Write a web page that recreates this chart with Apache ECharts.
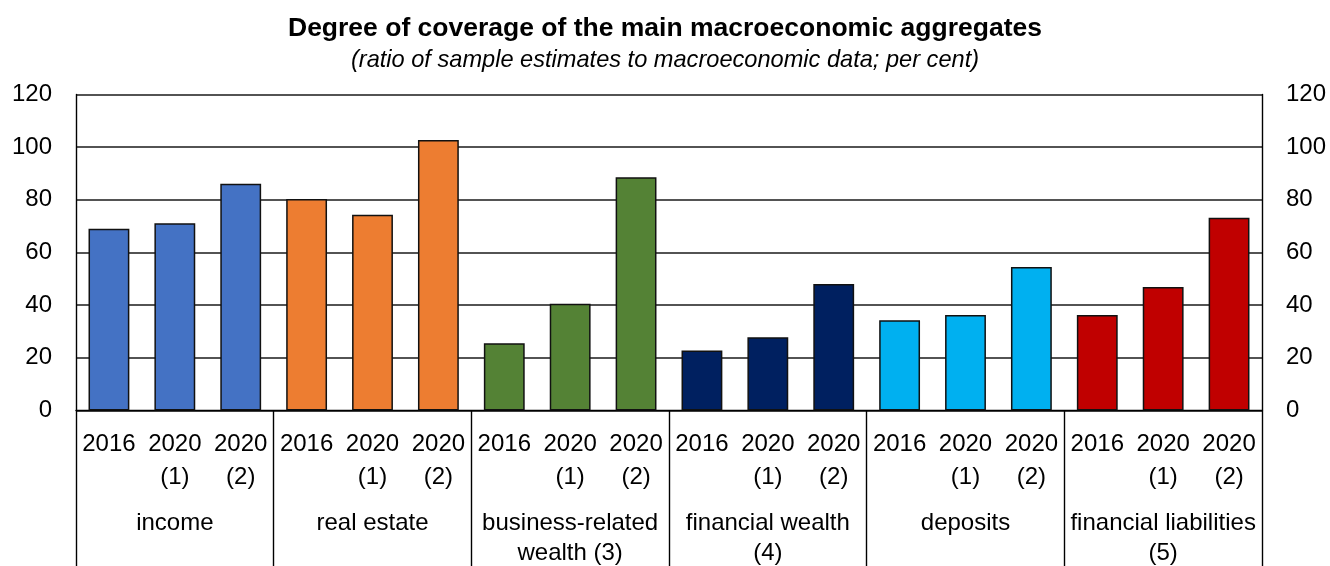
<!DOCTYPE html>
<html>
<head>
<meta charset="utf-8">
<script src="https://cdn.jsdelivr.net/npm/echarts@6/dist/echarts.min.js"></script>
<style>
html,body{margin:0;padding:0;background:#fff;}
#chart{width:1330px;height:566px;}
</style>
</head>
<body>
<div id="chart"></div>
<script>
// ---- data ----
const groups = ['income', 'real estate', 'business-related\nwealth (3)', 'financial wealth\n(4)', 'deposits', 'financial liabilities\n(5)'];
const periods = ['2016', '2020\n(1)', '2020\n(2)'];
const income = [69.0, 71.1, 86.1];
const realEstate = [80.3, 74.3, 102.7];
const businessWealth = [25.5, 40.5, 88.6];
const financialWealth = [22.8, 27.8, 48.0];
const deposits = [34.3, 36.3, 54.5];
const financialLiabilities = [36.3, 46.9, 73.2];
const groupColors = ['#4472C4', '#ED7D31', '#548235', '#002060', '#00B0F0', '#C00000'];
const yTicks = [0, 20, 40, 60, 80, 100, 120];

const groupValues = [income, realEstate, businessWealth, financialWealth, deposits, financialLiabilities];
const categories = [];
const barData = [];
groupValues.forEach((vals, g) => {
  vals.forEach((v, i) => {
    categories.push(periods[i]);
    barData.push({ value: v, itemStyle: { color: groupColors[g] } });
  });
});

const FONT = '"Liberation Sans", Arial, Helvetica, sans-serif';
const chart = echarts.init(document.getElementById('chart'), null, { renderer: 'canvas' });
const yAxisCommon = {
  type: 'value',
  min: yTicks[0],
  max: yTicks[yTicks.length - 1],
  interval: 20,
  axisLine: { show: true, lineStyle: { color: '#000', width: 1.4 } },
  axisTick: { show: false },
  axisLabel: { color: '#000', fontSize: 24, fontFamily: FONT, margin: 24 }
};
chart.setOption({
  animation: false,
  backgroundColor: '#fff',
  title: {
    text: 'Degree of coverage of the main macroeconomic aggregates',
    subtext: '(ratio of sample estimates to macroeconomic data; per cent)',
    left: 'center',
    top: 9,
    itemGap: 3,
    textStyle: { color: '#000', fontSize: 26.5, fontWeight: 'bold', fontFamily: FONT, lineHeight: 30 },
    subtextStyle: { color: '#000', fontSize: 23.6, fontStyle: 'italic', fontFamily: FONT, lineHeight: 26 }
  },
  grid: { left: 76, right: 68, top: 94.5, bottom: 155.5, containLabel: false, outerBoundsMode: 'none' },
  xAxis: [
    {
      type: 'category',
      data: categories,
      position: 'bottom',
      axisLine: { show: true, onZero: false, lineStyle: { color: '#000', width: 1.4 } },
      axisTick: { show: false },
      axisLabel: { interval: 0, color: '#000', fontSize: 24, fontFamily: FONT, lineHeight: 33, margin: 17 }
    },
    {
      type: 'category',
      data: groups,
      position: 'bottom',
      axisLine: { show: false },
      axisTick: { show: true, length: 160, lineStyle: { color: '#000', width: 1.4 } },
      axisLabel: { interval: 0, color: '#000', fontSize: 24, fontFamily: FONT, lineHeight: 30, margin: 97.5 }
    }
  ],
  yAxis: [
    Object.assign({}, yAxisCommon, {
      position: 'left',
      splitLine: { show: true, lineStyle: { color: '#1a1a1a', width: 1.5 } }
    }),
    Object.assign({}, yAxisCommon, {
      position: 'right',
      splitLine: { show: false }
    })
  ],
  series: [
    {
      type: 'bar',
      xAxisIndex: 0,
      yAxisIndex: 0,
      barWidth: '62%',
      data: barData,
      itemStyle: { borderColor: '#111', borderWidth: 1.5 }
    }
  ]
});
</script>
</body>
</html>
